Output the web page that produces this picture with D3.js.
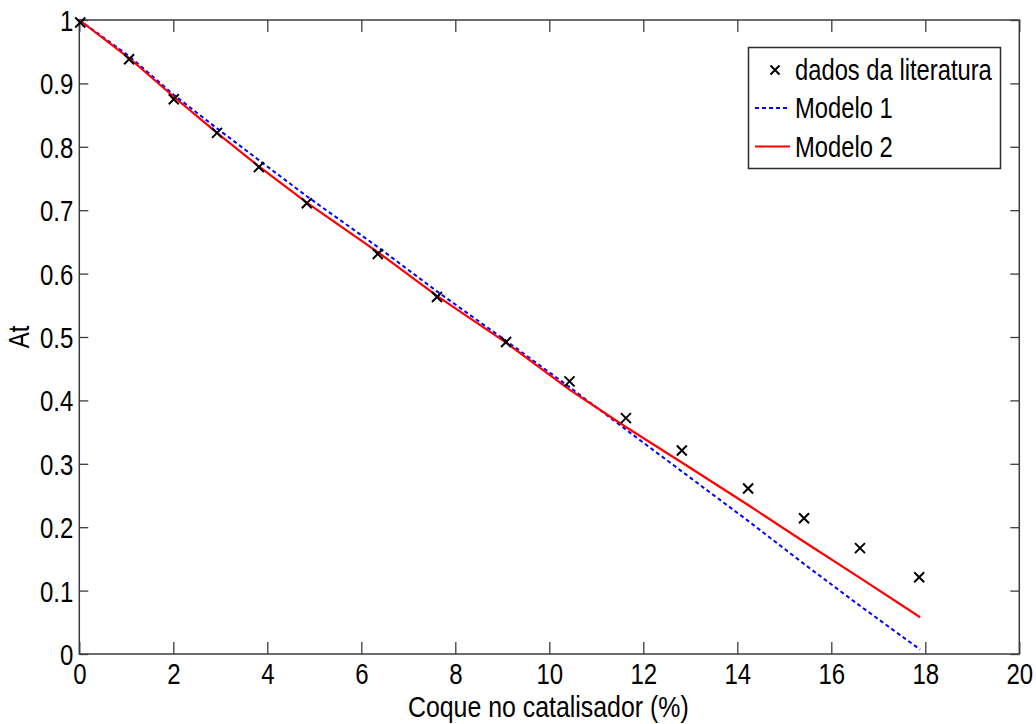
<!DOCTYPE html>
<html>
<head>
<meta charset="utf-8">
<script src="https://cdn.jsdelivr.net/npm/d3@7"></script>
<style>
  html, body { margin: 0; padding: 0; background: #fff; }
  svg { display: block; }
  text { font-family: "Liberation Sans", Arial, sans-serif; fill: #000; }
</style>
</head>
<body>
<script>
// ---- data ----
const xData = [0.02, 1.06, 2.01, 2.93, 3.82, 4.84, 6.35, 7.61, 9.08, 10.43, 11.63, 12.82, 14.23, 15.42, 16.61, 17.87];
const yData = [0.996, 0.938, 0.875, 0.822, 0.768, 0.711, 0.631, 0.563, 0.492, 0.430, 0.372, 0.321, 0.261, 0.214, 0.167, 0.121];
const xModel = [0, 1.06, 2.01, 2.93, 3.82, 4.84, 6.35, 7.61, 9.08, 10.43, 11.63, 12.82, 14.23, 15.42, 16.61, 17.89];
const model1 = [1.0, 0.943, 0.882, 0.829, 0.779, 0.722, 0.642, 0.572, 0.494, 0.421, 0.354, 0.288, 0.210, 0.142, 0.076, 0.007];
const model2 = [1.0, 0.940, 0.879, 0.822, 0.769, 0.712, 0.634, 0.565, 0.491, 0.417, 0.358, 0.302, 0.235, 0.177, 0.120, 0.058];
const xTicks = [0, 2, 4, 6, 8, 10, 12, 14, 16, 18, 20];
const xTickLabels = ["0", "2", "4", "6", "8", "10", "12", "14", "16", "18", "20"];
const yTicks = [0, 0.1, 0.2, 0.3, 0.4, 0.5, 0.6, 0.7, 0.8, 0.9, 1];
const yTickLabels = ["0", "0.1", "0.2", "0.3", "0.4", "0.5", "0.6", "0.7", "0.8", "0.9", "1"];
const seriesNames = ["dados da literatura", "Modelo 1", "Modelo 2"];
const xTitle = "Coque no catalisador (%)";
const yTitle = "At";

// ---- layout ----
const W = 1036, H = 724;
const m = { left: 79.3, right: 1036 - 1019.3, top: 20, bottom: 724 - 654 };
const iw = W - m.left - m.right, ih = H - m.top - m.bottom;
const SX = 0.8; // horizontal condensing of the font
const FS = 30;
const axisColor = "#3c3c3c";

const svg = d3.select("body").append("svg").attr("width", W).attr("height", H);
svg.append("rect").attr("width", W).attr("height", H).attr("fill", "#fff");
const g = svg.append("g").attr("transform", `translate(${m.left},${m.top})`);

const x = d3.scaleLinear().domain([0, 20]).range([0, iw]);
const y = d3.scaleLinear().domain([0, 1]).range([ih, 0]);

function styleAxis(sel) {
  sel.select(".domain").remove();
  sel.selectAll(".tick line").attr("stroke", axisColor).attr("stroke-width", 1.3);
  sel.selectAll("text").style("font-size", FS + "px").style("font-family", '"Liberation Sans", Arial, sans-serif').attr("fill", "#000");
}

// bottom axis
const gx = g.append("g").attr("transform", `translate(0,${ih})`)
  .call(d3.axisBottom(x).tickValues(xTicks).tickFormat((d, i) => xTickLabels[i])
    .tickSizeInner(-12).tickSizeOuter(0).tickPadding(9));
styleAxis(gx);
gx.selectAll("text").attr("transform", `scale(${SX},1)`).attr("x", 0);

// top axis (ticks only)
const gxt = g.append("g")
  .call(d3.axisTop(x).tickValues(xTicks).tickFormat("").tickSizeInner(-12).tickSizeOuter(0));
styleAxis(gxt);

// left axis
const gy = g.append("g")
  .call(d3.axisLeft(y).tickValues(yTicks).tickFormat((d, i) => yTickLabels[i])
    .tickSizeInner(-9).tickSizeOuter(0).tickPadding(6));
styleAxis(gy);
gy.selectAll("text").attr("x", -6 / SX).attr("dy", "0.35em").attr("transform", `scale(${SX},1)`);

// right axis (ticks only)
const gyr = g.append("g").attr("transform", `translate(${iw},0)`)
  .call(d3.axisRight(y).tickValues(yTicks).tickFormat("").tickSizeInner(-9).tickSizeOuter(0));
styleAxis(gyr);

// frame
g.append("rect").attr("x", 0).attr("y", 0).attr("width", iw).attr("height", ih)
  .attr("fill", "none").attr("stroke", axisColor).attr("stroke-width", 1.5);

// lines
const line1 = d3.line().x((d, i) => x(xModel[i])).y(d => y(d));
g.append("path").datum(model1).attr("d", line1)
  .attr("fill", "none").attr("stroke", "#0000ff").attr("stroke-width", 2)
  .attr("stroke-dasharray", "4,3");
g.append("path").datum(model2).attr("d", line1)
  .attr("fill", "none").attr("stroke", "#ff0000").attr("stroke-width", 2.2);

// markers
const ms = 5;
function crossPath(cx, cy, s) {
  return `M${cx - s},${cy - s}L${cx + s},${cy + s}M${cx - s},${cy + s}L${cx + s},${cy - s}`;
}
g.append("g").selectAll("path").data(yData).join("path")
  .attr("d", (d, i) => crossPath(x(xData[i]), y(d), ms))
  .attr("stroke", "#000").attr("stroke-width", 2).attr("fill", "none");

// axis titles
svg.append("text")
  .attr("transform", `translate(${m.left + iw / 2 - 1},717) scale(${SX + 0.03},1)`)
  .attr("text-anchor", "middle").style("font-size", FS + "px").text(xTitle);
svg.append("text")
  .attr("transform", `translate(29,${m.top + ih / 2}) rotate(-90) scale(${SX},1)`)
  .attr("text-anchor", "middle").style("font-size", FS + "px").text(yTitle);

// legend
const lg = svg.append("g");
lg.append("rect").attr("x", 748.5).attr("y", 47.5).attr("width", 252).attr("height", 121)
  .attr("fill", "#fff").attr("stroke", "#2a2a2a").attr("stroke-width", 1.5);
const rowsY = [70, 108, 146.5];
lg.append("path").attr("d", crossPath(775, rowsY[0], 4.5))
  .attr("stroke", "#000").attr("stroke-width", 2).attr("fill", "none");
lg.append("line").attr("x1", 755).attr("x2", 790).attr("y1", rowsY[1]).attr("y2", rowsY[1])
  .attr("stroke", "#0000ff").attr("stroke-width", 2).attr("stroke-dasharray", "4,3");
lg.append("line").attr("x1", 755).attr("x2", 790).attr("y1", rowsY[2]).attr("y2", rowsY[2])
  .attr("stroke", "#ff0000").attr("stroke-width", 2.2);
seriesNames.forEach((name, i) => {
  lg.append("text")
    .attr("transform", `translate(795,${rowsY[i]}) scale(0.82,1)`)
    .attr("dy", "0.35em").style("font-size", "29px").text(name);
});
</script>
</body>
</html>
